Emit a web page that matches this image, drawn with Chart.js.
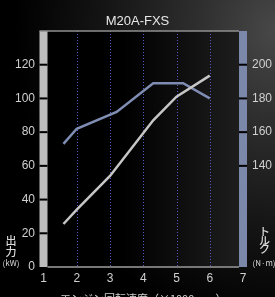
<!DOCTYPE html>
<html>
<head>
<meta charset="utf-8">
<script src="https://cdn.jsdelivr.net/npm/chart.js"></script>
<style>
	html, body { margin: 0; padding: 0; }
	body {
		width: 275px;
		height: 297px;
		overflow: hidden;
		background: #000 radial-gradient(ellipse 260px 300px at 275px 30px, #484848 0%, #2e2e2e 30%, #151515 65%, #000 100%);
	}
	#wrap { position: relative; width: 275px; height: 297px; }
</style>
</head>
<body>
<div id="wrap"><canvas id="engineChart" width="275" height="297"></canvas></div>
<script>
// power curve (kW) against engine speed (x1000 rpm)
const powerRpm = [1.6, 2.0, 3.0, 4.3, 5.0, 6.0];
const powerKw = [25.5, 34, 54, 87, 101, 113.5];

// torque curve (N·m)
const torqueRpm = [1.6, 2.0, 3.2, 4.3, 5.2, 6.0];
const torqueNm = [153, 162, 172, 189, 189, 180];

const rpmTicks = [1, 2, 3, 4, 5, 6, 7];
const powerTicks = [0, 20, 40, 60, 80, 100, 120];
const torqueTicks = [140, 160, 180, 200];

const tickFont = { family: "'Liberation Sans Narrow', 'Liberation Sans', sans-serif", size: 12 };
const jpFont = "'Noto Sans CJK JP', sans-serif";

// plot fill, dotted rpm lines, side bars, notches and axis labels
const framePlugin = {
	id: "frame",
	beforeDraw(chart) {
		const { ctx, chartArea: a } = chart;
		const g = ctx.createLinearGradient(a.left, 0, a.right, 0);
		g.addColorStop(0, "#000");
		g.addColorStop(0.4, "#000");
		g.addColorStop(1, "#1e1e1e");
		ctx.save();
		ctx.fillStyle = g;
		ctx.fillRect(a.left, a.top, a.right - a.left, a.bottom - a.top);
		ctx.restore();
	},
	beforeDatasetsDraw(chart) {
		const { ctx, chartArea: a, scales } = chart;
		ctx.save();
		// dotted lines at each rpm step
		ctx.strokeStyle = "#5858c0";
		ctx.lineWidth = 1;
		ctx.setLineDash([1, 2]);
		rpmTicks.forEach((v) => {
			if (v === 1 || v === 7) return;
			const x = Math.round(scales.x.getPixelForValue(v)) + 0.5;
			ctx.beginPath();
			ctx.moveTo(x, a.top);
			ctx.lineTo(x, a.bottom);
			ctx.stroke();
		});
		ctx.setLineDash([]);

		// power bar (left)
		ctx.fillStyle = "#bdbdbd";
		ctx.fillRect(a.left - 4, a.top, 8, a.bottom - a.top);
		// torque bar (right)
		ctx.fillStyle = "#7b88aa";
		ctx.fillRect(a.right - 4, a.top, 8, a.bottom - a.top);

		ctx.fillStyle = "#000";
		powerTicks.forEach((v) => {
			if (v === 0) return;
			const y = scales.y.getPixelForValue(v);
			ctx.fillRect(a.left - 4, y - 1, 8, 2);
		});
		torqueTicks.forEach((v) => {
			const y = scales.y1.getPixelForValue(v);
			ctx.fillRect(a.right - 4, y - 1, 8, 2);
		});

		// top and bottom lines
		ctx.strokeStyle = "#8f8f8f";
		ctx.lineWidth = 1.5;
		ctx.beginPath();
		ctx.moveTo(a.left - 4, a.top);
		ctx.lineTo(a.right - 4, a.top);
		ctx.stroke();
		ctx.strokeStyle = "#777";
		ctx.lineWidth = 2;
		ctx.beginPath();
		ctx.moveTo(a.left + 4, a.bottom);
		ctx.lineTo(a.right - 4, a.bottom);
		ctx.stroke();
		ctx.restore();
	},
	afterDraw(chart) {
		const { ctx } = chart;
		ctx.save();
		ctx.fillStyle = "#dadada";
		ctx.textAlign = "center";
		ctx.textBaseline = "middle";
		ctx.font = "500 11px " + jpFont;
		ctx.fillText("出", 11, 241);
		ctx.fillText("力", 11, 251.5);
		ctx.fillText("ト", 264.5, 232);
		ctx.fillText("ル", 264.5, 240.5);
		ctx.fillText("ク", 264.5, 249);
		ctx.font = "8px " + jpFont;
		ctx.fillText("(kW)", 11, 263);
		ctx.fillText("(N·m)", 264, 263);
		ctx.restore();
	},
};

const chart = new Chart(document.getElementById("engineChart"), {
	type: "line",
	data: {
		datasets: [
			{
				label: "出力",
				data: powerRpm.map((x, i) => ({ x: x, y: powerKw[i] })),
				yAxisID: "y",
				borderColor: "#c6c6c6",
				borderWidth: 2.5,
				pointRadius: 0,
				tension: 0,
			},
			{
				label: "トルク",
				data: torqueRpm.map((x, i) => ({ x: x, y: torqueNm[i] })),
				yAxisID: "y1",
				borderColor: "#7f8db3",
				borderWidth: 2.5,
				pointRadius: 0,
				tension: 0,
			},
		],
	},
	options: {
		responsive: false,
		animation: false,
		layout: { padding: 0 },
		plugins: {
			legend: { display: false },
			tooltip: { enabled: false },
			title: {
				display: true,
				text: "M20A-FXS",
				color: "#e8e8e8",
				font: { family: "'Liberation Sans', sans-serif", size: 13, weight: "normal" },
				padding: { top: 14, bottom: 1.4 },
			},
		},
		scales: {
			x: {
				type: "linear",
				min: 1,
				max: 7,
				afterBuildTicks: (s) => { s.ticks = rpmTicks.map((v) => ({ value: v })); },
				afterFit: (s) => { s.height = 30; },
				ticks: { color: "#d0d0d0", font: tickFont, padding: 4 },
				grid: { display: false, drawTicks: false },
				border: { display: false },
				title: {
					display: true,
					text: "エンジン回転速度（×1000rpm）",
					color: "#d0d0d0",
					font: { family: jpFont, size: 11 },
					padding: { top: 0, bottom: -8 },
				},
			},
			y: {
				position: "left",
				min: 0,
				max: 140,
				afterBuildTicks: (s) => { s.ticks = powerTicks.map((v) => ({ value: v })); },
				afterFit: (s) => { s.width = 43.5; },
				ticks: { color: "#d0d0d0", font: tickFont, padding: 8.5 },
				grid: { display: false, drawTicks: false },
				border: { display: false },
			},
			y1: {
				position: "right",
				min: 80,
				max: 220,
				afterBuildTicks: (s) => { s.ticks = torqueTicks.map((v) => ({ value: v })); },
				afterFit: (s) => { s.width = 32; },
				ticks: { color: "#d0d0d0", font: tickFont, padding: 9 },
				grid: { display: false, drawTicks: false },
				border: { display: false },
			},
		},
	},
	plugins: [framePlugin],
});
</script>
</body>
</html>
